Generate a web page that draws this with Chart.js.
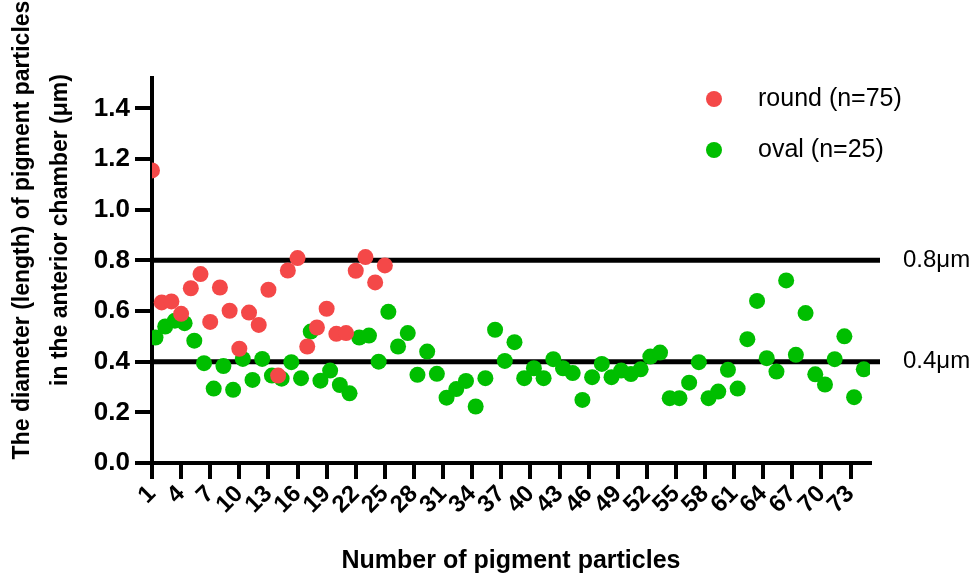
<!DOCTYPE html>
<html lang="en">
<head>
<meta charset="UTF-8">
<title>pigment particles</title>
<script src="https://cdn.jsdelivr.net/npm/chart.js@4.4.1/dist/chart.umd.min.js"></script>
<style>
  html, body { margin: 0; padding: 0; background: #fff; }
  canvas { display: block; }
</style>
</head>
<body>
<canvas id="myChart" width="979" height="578"></canvas>
<script>
  // values
  const seriesNames = ['round (n=75)', 'oval (n=25)']
  const seriesColors = ['#F44848', '#00BE00']
  const roundVals = [1.155, 0.634, 0.638, 0.589, 0.69, 0.746, 0.557, 0.693, 0.601, 0.451,
    0.594, 0.545, 0.684, 0.345, 0.76, 0.809, 0.46, 0.535, 0.609, 0.51,
    0.513, 0.759, 0.813, 0.713, 0.78]
  const ovalVals = [0.495, 0.539, 0.562, 0.552, 0.483, 0.394, 0.294, 0.383, 0.289, 0.411,
    0.328, 0.411, 0.345, 0.333, 0.398, 0.335, 0.519, 0.325, 0.365, 0.308,
    0.275, 0.495, 0.503, 0.4, 0.597, 0.46, 0.513, 0.348, 0.44, 0.352,
    0.258, 0.292, 0.324, 0.223, 0.335, 0.526, 0.403, 0.477, 0.335, 0.374,
    0.335, 0.41, 0.374, 0.355, 0.249, 0.339, 0.391, 0.339, 0.365, 0.351,
    0.37, 0.42, 0.436, 0.256, 0.256, 0.317, 0.398, 0.256, 0.282, 0.368,
    0.294, 0.489, 0.64, 0.414, 0.361, 0.721, 0.427, 0.592, 0.35, 0.31,
    0.41, 0.5, 0.26, 0.37]
  const tickLabels = [1, 4, 7, 10, 13, 16, 19, 22, 25, 28, 31, 34, 37, 40, 43, 46, 49, 52, 55, 58, 61, 64, 67, 70, 73]
  const refLines = [0.8, 0.4]
  const refLabels = ['0.8\u03bcm', '0.4\u03bcm']
  const yTitle = ['The diameter (length) of pigment particles', 'in the anterior chamber (\u03bcm)']
  const xTitle = 'Number of pigment particles'

  const FONT = '"Liberation Sans", Arial, Helvetica, sans-serif'

  const overlay = {
    id: 'overlay',
    beforeDatasetsDraw(chart) {
      const { ctx, chartArea, scales } = chart
      ctx.save()
      ctx.strokeStyle = '#000'
      ctx.fillStyle = '#000'
      ctx.lineWidth = 5
      ctx.font = '24px ' + FONT
      ctx.textBaseline = 'middle'
      refLines.forEach((v, i) => {
        const y = scales.y.getPixelForValue(v)
        ctx.beginPath()
        ctx.moveTo(chartArea.left, y)
        ctx.lineTo(chartArea.right + 10, y)
        ctx.stroke()
        ctx.fillText(refLabels[i], chartArea.right + 33, y)
      })
      ctx.restore()
    },
    afterDraw(chart) {
      const { ctx } = chart
      ctx.save()
      // legend
      ctx.font = '25px ' + FONT
      ctx.textBaseline = 'middle'
      chart.data.datasets.forEach((ds, i) => {
        const y = 99 + i * 51
        ctx.fillStyle = ds.backgroundColor
        ctx.beginPath()
        ctx.arc(714, y, 8, 0, Math.PI * 2)
        ctx.fill()
        ctx.fillStyle = '#000'
        ctx.fillText(ds.label, 758, y)
      })
      // y axis title, two lines
      ctx.font = 'bold 23px ' + FONT
      ctx.textAlign = 'center'
      ;[23, 61].forEach((x, i) => {
        ctx.save()
        ctx.translate(x, 230)
        ctx.rotate(-Math.PI / 2)
        ctx.fillText(yTitle[i], 0, 0)
        ctx.restore()
      })
      ctx.restore()
    }
  }

  const ctx = document.getElementById('myChart').getContext('2d')
  new Chart(ctx, {
    type: 'scatter',
    data: {
      datasets: [
        {
          label: seriesNames[0],
          data: roundVals.map((v, i) => ({ x: i + 1, y: v })),
          backgroundColor: seriesColors[0],
          borderWidth: 0,
          pointRadius: 8,
          xAxisID: 'x'
        },
        {
          label: seriesNames[1],
          data: ovalVals.map((v, i) => ({ x: i + 1, y: v })),
          backgroundColor: seriesColors[1],
          borderWidth: 0,
          pointRadius: 8,
          xAxisID: 'x2'
        }
      ]
    },
    options: {
      responsive: false,
      animation: false,
      layout: { padding: { left: 0, top: 78, right: 109, bottom: 0 } },
      plugins: {
        legend: { display: false },
        tooltip: { enabled: false }
      },
      scales: {
        x: {
          type: 'linear',
          min: 1,
          max: 75,
          afterBuildTicks: axis => { axis.ticks = tickLabels.map(v => ({ value: v })) },
          afterFit: s => { s.height = 115 },
          border: { display: true, color: '#000', width: 4 },
          grid: { drawOnChartArea: false, drawTicks: true, tickLength: 16, color: '#000', lineWidth: 4 },
          ticks: {
            autoSkip: false,
            maxRotation: 45,
            minRotation: 45,
            padding: 1,
            color: '#000',
            font: { family: FONT, size: 24, weight: 'bold' },
            callback: v => String(v)
          },
          title: {
            display: true,
            text: xTitle,
            color: '#000',
            font: { family: FONT, size: 25, weight: 'bold' },
            padding: { top: 0, bottom: 2 }
          }
        },
        x2: {
          type: 'linear',
          display: false,
          min: 1 - 0.36,
          max: 75 - 0.36
        },
        y: {
          min: 0,
          max: 1.52,
          afterFit: s => { s.width = 152 },
          border: { display: true, color: '#000', width: 4 },
          grid: { drawOnChartArea: false, drawTicks: true, tickLength: 17, color: '#000', lineWidth: 4 },
          ticks: {
            stepSize: 0.2,
            includeBounds: false,
            padding: 5,
            color: '#000',
            font: { family: FONT, size: 26, weight: 'bold' },
            callback: v => v.toFixed(1)
          }
        }
      }
    },
    plugins: [overlay]
  })
</script>
</body>
</html>
